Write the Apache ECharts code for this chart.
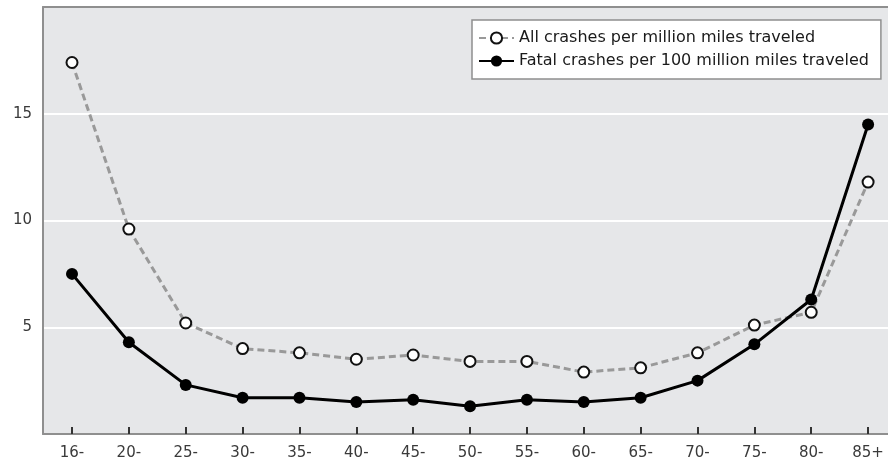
<!DOCTYPE html>
<html>
<head>
<meta charset="utf-8">
<script src="https://cdn.jsdelivr.net/npm/echarts@6/dist/echarts.min.js"></script>
<style>
html,body{margin:0;padding:0;background:#fff;}
#chart{width:888px;height:472px;}
</style>
</head>
<body>
<div id="chart"></div>
<script>
const categories = ['16-','20-','25-','30-','35-','40-','45-','50-','55-','60-','65-','70-','75-','80-','85+'];
const allCrashes = [17.4, 9.6, 5.2, 4.0, 3.8, 3.5, 3.7, 3.4, 3.4, 2.9, 3.1, 3.8, 5.1, 5.7, 11.8];
const fatalCrashes = [7.5, 4.3, 2.3, 1.7, 1.7, 1.5, 1.6, 1.3, 1.6, 1.5, 1.7, 2.5, 4.2, 6.3, 14.5];
const yTicks = [5, 10, 15];
const seriesNames = ['All crashes per million miles traveled', 'Fatal crashes per 100 million miles traveled'];

const idx = categories.map((c, i) => i);
const allData = allCrashes.map((v, i) => [i, v]);
const fatalData = fatalCrashes.map((v, i) => [i, v]);

const font = 'DejaVu Sans, Liberation Sans, Arial, sans-serif';
const borderStyle = {color: '#8f8f8f', width: 2};
const chart = echarts.init(document.getElementById('chart'), null, {renderer: 'canvas'});
chart.setOption({
  animation: false,
  grid: {
    left: 43, top: 7, right: 0, bottom: 38,
    show: true, backgroundColor: '#e6e7e9', borderWidth: 0
  },
  legend: {
    orient: 'vertical',
    left: 472, top: 20,
    padding: [10, 12, 10, 6],
    itemWidth: 35, itemHeight: 14, itemGap: 7,
    backgroundColor: '#ffffff', borderColor: '#8f8f8f', borderWidth: 1.5,
    textStyle: {fontFamily: font, fontSize: 16, color: '#1a1a1a'},
    data: seriesNames
  },
  xAxis: [{
    type: 'value',
    min: -0.51, max: 14.35,
    axisLine: {show: true, onZero: false, lineStyle: borderStyle},
    axisTick: {show: true, inside: true, customValues: idx, length: 7, lineStyle: {color: '#333', width: 2}},
    axisLabel: {
      fontFamily: font, fontSize: 15, color: '#3a3a3a', margin: 12,
      customValues: idx,
      formatter: v => categories[Math.round(v)]
    },
    splitLine: {show: false}
  }, {
    type: 'value',
    min: -0.51, max: 14.35,
    position: 'top',
    axisLine: {show: true, onZero: false, lineStyle: borderStyle},
    axisTick: {show: false},
    axisLabel: {show: false},
    splitLine: {show: false}
  }],
  yAxis: {
    type: 'value',
    min: 0, max: 20, interval: 5,
    axisLine: {show: true, onZero: false, lineStyle: borderStyle},
    axisTick: {show: false},
    axisLabel: {
      fontFamily: font, fontSize: 15, color: '#3a3a3a', margin: 11,
      formatter: v => yTicks.includes(v) ? String(v) : ''
    },
    splitLine: {show: true, lineStyle: {color: '#ffffff', width: 2}}
  },
  series: [
    {
      name: seriesNames[0],
      type: 'line',
      data: allData,
      symbol: 'circle',
      symbolSize: 11,
      lineStyle: {color: '#999999', width: 3, type: [7, 4]},
      itemStyle: {color: '#ffffff', borderColor: '#111', borderWidth: 2},
      z: 3
    },
    {
      name: seriesNames[1],
      type: 'line',
      data: fatalData,
      symbol: 'circle',
      symbolSize: 12,
      lineStyle: {color: '#000000', width: 3},
      itemStyle: {color: '#000000'},
      z: 4
    }
  ]
});
</script>
</body>
</html>
